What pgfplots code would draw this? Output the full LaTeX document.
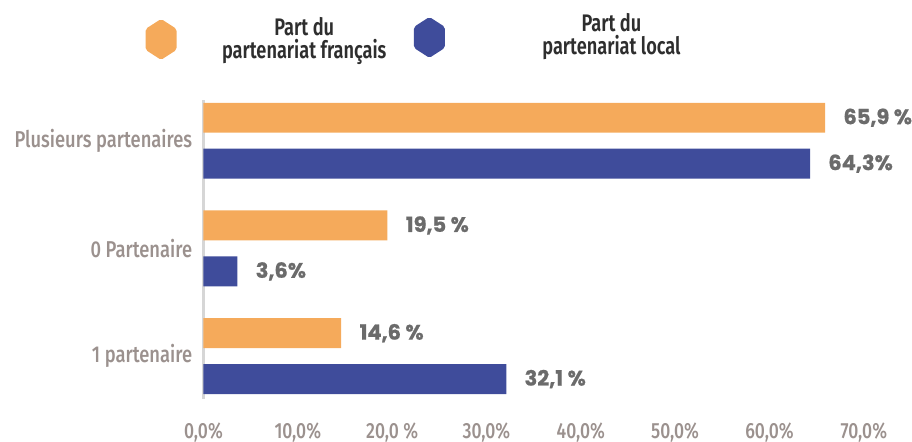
\documentclass[border=0pt]{standalone}
\usepackage{fontspec}
\setmainfont{Fira Sans}
\usepackage{pgfplots}
\pgfplotsset{compat=1.18}

\newfontfamily\condfont[FakeStretch=0.8]{Fira Sans Medium}
\newfontfamily\legfont[FakeStretch=0.76]{Fira Sans SemiBold}
\newfontfamily\valfont[BoldFeatures={FakeBold=0.8}]{Poppins}

\definecolor{orangeP}{HTML}{F5AA5B}
\definecolor{blueP}{HTML}{3F4C9B}
\definecolor{tickgray}{HTML}{9B918E}
\definecolor{valgray}{HTML}{6B6B6B}
\definecolor{legtext}{HTML}{2E2E2E}
\definecolor{axisgray}{HTML}{D6D6D6}

\begin{document}
\begin{tikzpicture}
% pixel frame of the reference: (204,400) px is the lower left corner of the axis
\begin{scope}[shift={(-102pt,200pt)}, x=0.5pt, y=-0.5pt]
  \useasboundingbox (0,0) rectangle (912,442);
  \fill[orangeP, rounded corners=1pt] (161.5,19)--(177,29)--(177,50)--(161.5,60)--(146,50)--(146,29)--cycle;
  \fill[blueP, rounded corners=1pt] (430.5,17)--(446,27)--(446,48)--(430.5,58)--(415,48)--(415,27)--cycle;
  \node[text=legtext, font=\legfont\fontsize{12}{11.5}\selectfont, align=center, inner sep=0pt] at (305,41) {Part du\\partenariat français};
  \node[text=legtext, font=\legfont\fontsize{12}{11.5}\selectfont, align=center, inner sep=0pt] at (613,37) {Part du\\partenariat local};
\end{scope}

\begin{axis}[
    at={(0,0)}, anchor=south west,
    scale only axis,
    width=331pt, height=150pt,
    xbar,
    bar width=0.2778,
    xmin=0, xmax=70,
    ymin=-0.398, ymax=2.380,
    axis lines=left,
    axis line style={-},
    x axis line style={draw=none},
    y axis line style={draw=axisgray, line width=1.5pt},
    major tick length=0pt,
    xtick={0,10,...,70},
    xticklabels={{0,0\%},{10,0\%},{20,0 \%},{30,0\%},{40,0\%},{50,0\%},{60,0\%},{70,0\%}},
    ytick={0,1,2},
    yticklabels={1 partenaire,0 Partenaire,Plusieurs partenaires},
    xticklabel style={text=tickgray, font=\condfont\fontsize{11}{12}\selectfont, inner sep=0pt, anchor=north, yshift=-11.5pt},
    yticklabel style={text=tickgray, font=\condfont\fontsize{11.5}{12}\selectfont, inner sep=0pt, anchor=east, xshift=-5.5pt},
    nodes near coords,
    point meta=explicit symbolic,
    every node near coord/.append style={anchor=west, inner sep=0pt, xshift=9pt, text=valgray, font=\valfont\bfseries\fontsize{10.5}{12}\selectfont},
]
\addplot[bar shift=0.213, fill=orangeP, draw=none]
    coordinates {(65.9,2) [65,9 \%] (19.5,1) [19,5 \%] (14.6,0) [14,6 \%]};
\addplot[bar shift=-0.213, fill=blueP, draw=none]
    coordinates {(64.3,2) [64,3\%] (3.6,1) [3,6\%] (32.1,0) [32,1 \%]};
\end{axis}
\end{tikzpicture}
\end{document}
